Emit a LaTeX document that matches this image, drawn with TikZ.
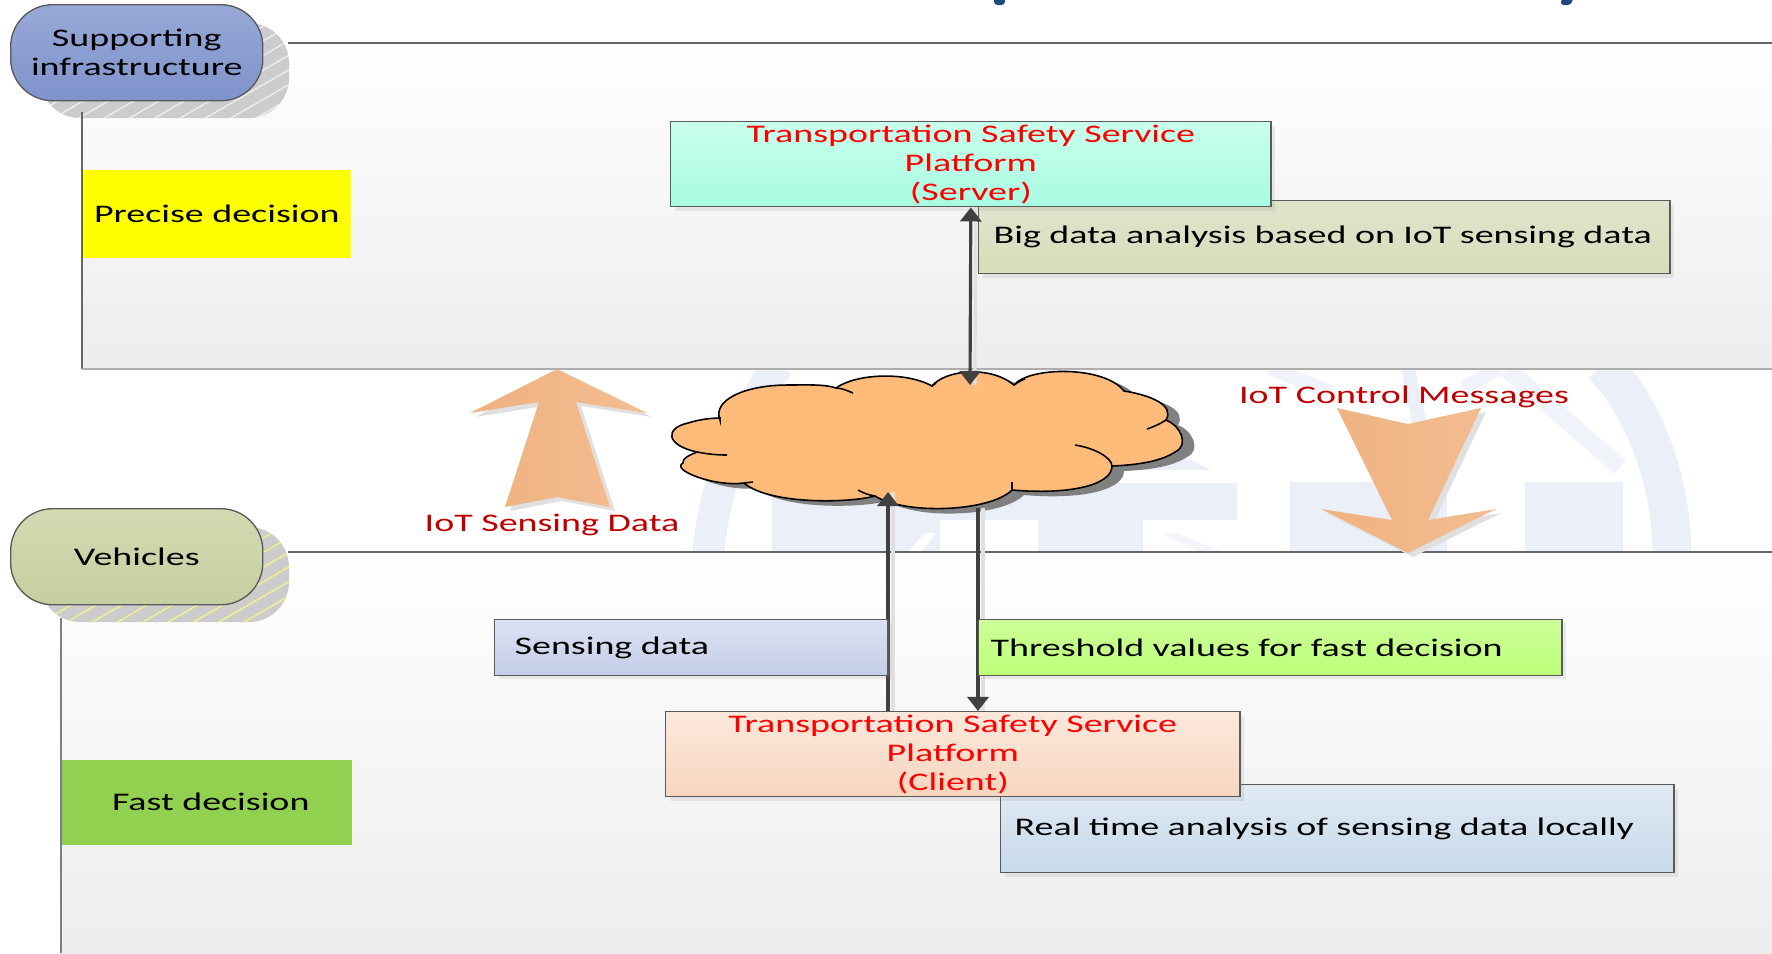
\documentclass[tikz,border=0pt]{standalone}
\usepackage{fontspec}
\setmainfont[FakeStretch=1.5]{Carlito}
\usepackage{xcolor}
\usetikzlibrary{arrows.meta,patterns.meta,shadows}
\definecolor{water}{HTML}{EAEFF8}
\definecolor{titleblue}{HTML}{1F497D}
\definecolor{rule}{HTML}{666666}
\definecolor{edge}{HTML}{5A5A5A}
\definecolor{link}{HTML}{404040}
\definecolor{puff}{HTML}{FFBB7A}
\definecolor{puffshade}{HTML}{808080}
\definecolor{msgred}{HTML}{C00000}
\definecolor{platred}{HTML}{FF0000}
\definecolor{precisey}{HTML}{FFFF00}
\definecolor{stripey}{HTML}{F2F28C}
\definecolor{infratop}{HTML}{98A9D7}
\definecolor{infrabot}{HTML}{7E93CB}
\definecolor{vehtop}{HTML}{D3DAB2}
\definecolor{vehbot}{HTML}{C5CFA0}
\definecolor{fastgreen}{HTML}{92D050}
\definecolor{bigl}{HTML}{EEB27F}
\definecolor{bigr}{HTML}{F3BD92}
\definecolor{bigtop}{HTML}{DFE5CD}
\definecolor{bigbot}{HTML}{D6DDB8}
\definecolor{realtop}{HTML}{E0EAF4}
\definecolor{realbot}{HTML}{C8DAEA}
\definecolor{servtop}{HTML}{C8FFEC}
\definecolor{servbot}{HTML}{A8FBE2}
\definecolor{clienttop}{HTML}{FCE9DC}
\definecolor{clientbot}{HTML}{F7D5BE}
\definecolor{senstop}{HTML}{DDE2F2}
\definecolor{sensbot}{HTML}{C4CEE8}
\definecolor{thretop}{HTML}{CCFF99}
\definecolor{threbot}{HTML}{BDFF78}
\tikzset{
	panel/.style={draw=edge,line width=.38pt,anchor=north west,inner ysep=0pt,align=left,
		drop shadow={shadow xshift=.04cm,shadow yshift=-.04cm,opacity=.14}},
	badge/.style={draw=edge,line width=.38pt,rounded corners=.42cm,anchor=north west,inner sep=0pt,
		minimum width=2.52cm,minimum height=.96cm,align=center},
	tag/.style={anchor=north west,inner sep=0pt,align=center},
	hatch/.style={rounded corners=.4cm,preaction={fill=black!20},pattern color=#1,
		pattern={Lines[angle=30,distance=3.6pt,line width=.4pt]}},
	linkline/.style={draw=link,line width=.9pt},
	linkhead/.style={-{Triangle[width=6pt,length=4pt]}},
	linkshade/.style={draw=black!12,line width=.9pt,transform canvas={xshift=1.4pt}},
}
\newcommand{\cloudline}{(720,420) .. controls (712,400) and (745,385) .. (788,385)
	.. controls (805,385) and (825,384) .. (836,388)
	.. controls (855,374) and (905,371) .. (932,386)
	.. controls (945,370) and (990,365) .. (1014,385)
	.. controls (1030,366) and (1105,366) .. (1124,391)
	.. controls (1150,395) and (1175,405) .. (1166,420)
	.. controls (1180,425) and (1190,445) .. (1175,452)
	.. controls (1160,462) and (1135,465) .. (1112,466)
	.. controls (1112,485) and (1070,495) .. (1012,490)
	.. controls (990,512) and (905,515) .. (875,496)
	.. controls (850,503) and (770,505) .. (744,483)
	.. controls (715,487) and (670,470) .. (683,463)
	.. controls (682,458) and (690,455) .. (697,452)
	.. controls (665,445) and (665,428) .. (688,423)
	.. controls (697,420) and (710,418) .. (720,418) -- cycle}
\newcommand{\arrowup}{(557,369) -- (647,413) -- (576,402) -- (610,507) -- (557,497) -- (505,507) -- (539,402) -- (470,413) -- cycle}
\newcommand{\arrowdown}{(1337,408) -- (1408,424) -- (1481,408) -- (1428,520) -- (1496,509) -- (1408,553) -- (1321,509) -- (1392,520) -- cycle}

\begin{document}
\begin{tikzpicture}[x=.01cm,y=-.01cm,every node/.style={font=\fontsize{7.2}{8.2}\selectfont}]
	\useasboundingbox (0,0) rectangle (1772,953);
	\clip (0,0) rectangle (1772,953);
	%title leftovers
	\fill[titleblue,rounded corners=1pt] (994,-4) rectangle (1005,5);
	\fill[titleblue,rounded corners=1pt] (1563,-4) -- (1574,-4) -- (1571,5) -- (1560,5) -- cycle;
	%watermark
	\fill[water] (772,483) rectangle (1237,520);
	\fill[water] (772,520) rectangle (940,552);
	\fill[water] (1038,520) rectangle (1143,552);
	\fill[water] (1290,482) rectangle (1447,552);
	\fill[water] (1525,482) rectangle (1623,552);
	\fill[water] (1100,440) -- (1175,452) -- (1211,470) -- (1100,470) -- cycle;
	\fill[white] (908,552) -- (925,533) -- (936,533) -- (922,552) -- cycle;
	\fill[water!60] (1164,535) -- (1176,533) -- (1223,552) -- (1200,552) -- cycle;
	\draw[water,line width=9pt] (778,365) .. controls (735,430) and (714,490) .. (708,556);
	\draw[water,line width=11pt] (1603,365) .. controls (1650,415) and (1672,490) .. (1672,556);
	\draw[water!70,line width=5pt] (1507,369) -- (1620,467);
	\draw[water,line width=4pt] (1408,369) -- (1420,425);
	\draw[water!70,line width=4pt] (1270,368) -- (1330,392);
	\draw[water!70,line width=4pt] (1463,388) -- (1500,368);
	%bands
	\shade[top color=white,bottom color=black!7] (82,43) rectangle (1772,369);
	\shade[top color=white,bottom color=black!7] (61,552) rectangle (1772,953);
	\fill[hatch=black!7] (40,23) rectangle (289,118);
	\fill[hatch=stripey] (40,527) rectangle (289,622);
	\draw[rule,line width=.32pt] (288,43) -- (1772,43);
	\draw[rule,line width=.32pt] (288,552) -- (1772,552);
	\draw[rule,line width=.4pt] (82,112) -- (82,369);
	\draw[black!32,line width=.55pt] (82,369) -- (1772,369);
	\draw[black!50,line width=.55pt] (61,618) -- (61,953);
	%side labels
	\node[badge,top color=infratop,bottom color=infrabot] (infra) at (10,4) {Supporting\\infrastructure};
	\node[badge,top color=vehtop,bottom color=vehbot] (vehicles) at (10,508) {Vehicles};
	\node[tag,fill=precisey,minimum width=2.68cm,minimum height=.88cm] (precise) at (82,169) {Precise decision};
	\node[tag,fill=fastgreen,minimum width=2.9cm,minimum height=.85cm] (fast) at (61,759) {\hspace{.08cm}Fast decision};
	%big arrows
	\fill[black!12,xshift=.05cm,yshift=-.04cm] \arrowup;
	\shade[left color=bigl,right color=bigr] \arrowup;
	\fill[black!12,xshift=.05cm,yshift=-.04cm] \arrowdown;
	\shade[left color=bigl,right color=bigr] \arrowdown;
	\node[text=msgred] (sensinglabel) at (552,525) {IoT Sensing Data};
	\node[text=msgred] (controllabel) at (1404,397) {IoT Control Messages};
	%cloud
	\fill[puffshade,xshift=.12cm,yshift=-.05cm] \cloudline;
	\draw[fill=puff,line width=.45pt] \cloudline;
	\draw[line width=.45pt] (836,388) .. controls (842,388) and (848,391) .. (853,393);
	\draw[line width=.45pt] (932,386) -- (936,383);
	\draw[line width=.45pt] (1014,385) .. controls (1018,382) and (1022,380) .. (1025,379);
	\draw[line width=.45pt] (1166,420) .. controls (1160,424) and (1153,427) .. (1147,429);
	\draw[line width=.45pt] (1075,445) .. controls (1095,448) and (1112,458) .. (1112,466);
	\draw[line width=.45pt] (1012,482) -- (1012,490);
	\draw[line width=.45pt] (858,490) .. controls (863,493) and (869,495) .. (875,496);
	\draw[line width=.45pt] (744,483) -- (753,482);
	\draw[line width=.45pt] (697,452) .. controls (707,454) and (717,455) .. (727,455);
	\coordinate (cloudtop) at (970,385);
	\coordinate (cloudup) at (888,492);
	\coordinate (clouddown) at (978,508);
	%boxes
	\node[panel,top color=bigtop,bottom color=bigbot,minimum width=6.91cm,minimum height=.73cm,text width=6.61cm,inner xsep=.13cm] (bigdata) at (978,200) {Big data analysis based on IoT sensing data};
	\node[panel,top color=realtop,bottom color=realbot,minimum width=6.73cm,minimum height=.88cm,text width=6.45cm,inner xsep=.14cm] (realtime) at (1000,784) {Real time analysis of sensing data locally};
	\node[panel,top color=servtop,bottom color=servbot,text=platred,align=center,minimum width=6cm,minimum height=.85cm] (server) at (670,121) {Transportation Safety Service\\Platform\\(Server)};
	\node[panel,top color=clienttop,bottom color=clientbot,text=platred,align=center,minimum width=5.74cm,minimum height=.85cm] (client) at (665,711) {Transportation Safety Service\\Platform\\(Client)};
	%links
	\draw[linkshade] (server.south) -- (cloudtop);
	\draw[linkshade] (cloudup |- client.north) -- (cloudup);
	\draw[linkshade] (clouddown) -- (clouddown |- client.north);
	\draw[linkline,{Triangle[width=6pt,length=4pt]}-{Triangle[width=6pt,length=4pt]}] (server.south) -- (cloudtop);
	\draw[linkline,linkhead] (cloudup |- client.north) -- (cloudup);
	\draw[linkline,linkhead] (clouddown) -- (clouddown |- client.north);
	\node[panel,top color=senstop,bottom color=sensbot,minimum width=3.93cm,minimum height=.555cm,text width=3.53cm,inner xsep=.2cm] (sensing) at (494,619) {Sensing data};
	\node[panel,top color=thretop,bottom color=threbot,minimum width=5.83cm,minimum height=.555cm,text width=5.59cm,inner xsep=.12cm] (threshold) at (978,619) {Threshold values for fast decision};
\end{tikzpicture}
\end{document}
